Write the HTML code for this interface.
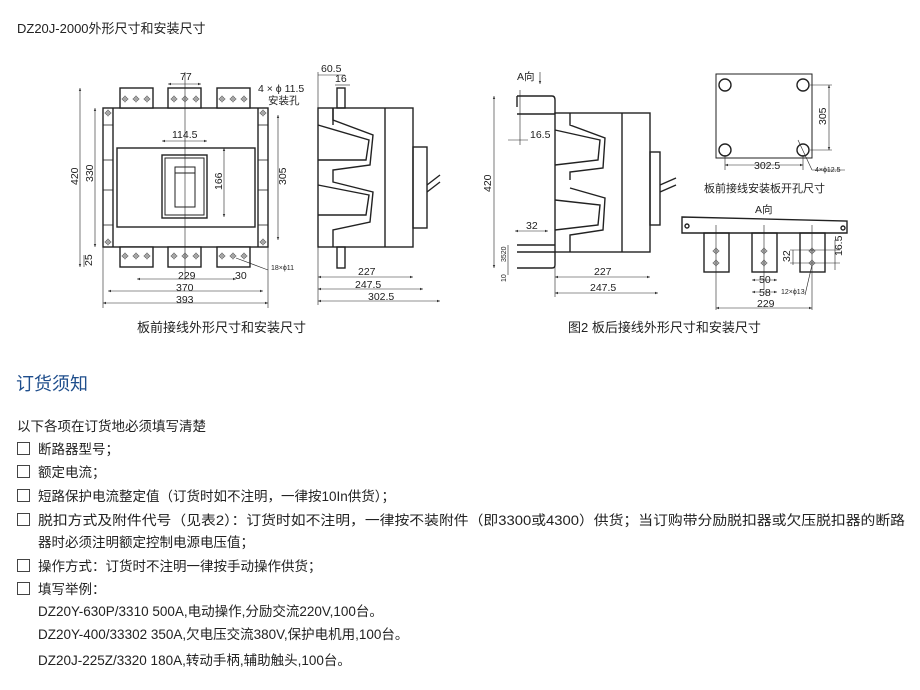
<!DOCTYPE html>
<html><head><meta charset="utf-8"><style>
body{margin:0;background:#fff}
svg{display:block}
text{font-family:"Liberation Sans","Noto Sans CJK SC",sans-serif;fill:#222}
.d{font-size:10.5px}
.s{font-size:7px}
</style></head><body>
<svg width="920" height="690" viewBox="0 0 920 690" xmlns="http://www.w3.org/2000/svg">
<defs>
<marker id="a" markerWidth="6" markerHeight="6" refX="5" refY="3" orient="auto-start-reverse"><path d="M0,1 L5,3 L0,5" fill="#333"/></marker>
<g id="h"><circle r="2.2" fill="none" stroke="#333" stroke-width="0.7"/><line x1="-3.5" x2="3.5" stroke="#333" stroke-width="0.5"/><line y1="-3.5" y2="3.5" stroke="#333" stroke-width="0.5"/></g>
<g id="t"><use href="#h" x="-11"/><use href="#h"/><use href="#h" x="11"/></g>
</defs>
<text x="17" y="33" style="font-size:13px">DZ20J-2000外形尺寸和安装尺寸</text>

<g stroke="#222" fill="none" stroke-width="1.4">
<!-- front view -->
<rect x="103" y="108" width="165" height="139" fill="#fff"/>
<line x1="113" y1="108" x2="113" y2="247"/><line x1="258" y1="108" x2="258" y2="247"/>
<g stroke-width="0.8">
<line x1="103" y1="125" x2="113" y2="125"/><line x1="103" y1="160" x2="113" y2="160"/><line x1="103" y1="190" x2="113" y2="190"/><line x1="103" y1="225" x2="113" y2="225"/>
<line x1="258" y1="125" x2="268" y2="125"/><line x1="258" y1="160" x2="268" y2="160"/><line x1="258" y1="190" x2="268" y2="190"/><line x1="258" y1="225" x2="268" y2="225"/>
</g>
<rect x="120" y="88" width="33" height="20" fill="#fff"/><rect x="168" y="88" width="33" height="20" fill="#fff"/><rect x="217" y="88" width="33" height="20" fill="#fff"/>
<rect x="120" y="247" width="33" height="20" fill="#fff"/><rect x="168" y="247" width="33" height="20" fill="#fff"/><rect x="217" y="247" width="33" height="20" fill="#fff"/>
<rect x="117" y="148" width="138" height="79"/>
<rect x="162" y="155" width="45" height="63"/><rect x="165" y="158" width="39" height="57" stroke-width="1"/>
<rect x="175" y="167" width="20" height="40" stroke-width="1"/><line x1="175" y1="173" x2="195" y2="173" stroke-width="1"/>
<line x1="185" y1="72" x2="185" y2="280" stroke-width="0.6"/>
<!-- dims front -->
<g stroke-width="0.6">
<line x1="80" y1="88" x2="80" y2="267" marker-start="url(#a)" marker-end="url(#a)"/>
<line x1="95" y1="108" x2="95" y2="247" marker-start="url(#a)" marker-end="url(#a)"/>
<line x1="278" y1="115" x2="278" y2="240" marker-start="url(#a)" marker-end="url(#a)"/>
<line x1="224" y1="148" x2="224" y2="217" marker-start="url(#a)" marker-end="url(#a)"/>
<line x1="168" y1="84" x2="201" y2="84" marker-start="url(#a)" marker-end="url(#a)"/>
<line x1="162" y1="141" x2="207" y2="141" marker-start="url(#a)" marker-end="url(#a)"/>
<line x1="137" y1="279" x2="236" y2="279" marker-start="url(#a)" marker-end="url(#a)"/>
<line x1="108" y1="291" x2="263" y2="291" marker-start="url(#a)" marker-end="url(#a)"/>
<line x1="103" y1="303" x2="268" y2="303" marker-start="url(#a)" marker-end="url(#a)"/>
<line x1="84" y1="255" x2="84" y2="267"/>
<line x1="103" y1="247" x2="103" y2="308"/><line x1="268" y1="247" x2="268" y2="308"/>
<line x1="236" y1="258" x2="268" y2="270"/>
</g>
<!-- side view -->
<rect x="318" y="108" width="95" height="139" fill="#fff"/>
<line x1="385" y1="108" x2="385" y2="247"/>
<rect x="413" y="147" width="14" height="81"/>
<line x1="427" y1="185" x2="440" y2="175"/><line x1="427" y1="192" x2="440" y2="182"/>
<rect x="337" y="88" width="8" height="20"/><rect x="337" y="247" width="8" height="21"/>
<path d="M318,125 L369,140 L366,160 L318,160 M333,108 L333,125 M318,185 L369,195 L366,215 L318,215"/>
<path d="M333,108 L333,120 L373,135 L370,165 L333,170 L333,182 L373,192 L370,222 L333,230 L333,247"/>
<g stroke-width="0.6">
<line x1="318" y1="277" x2="413" y2="277" marker-start="url(#a)" marker-end="url(#a)"/>
<line x1="318" y1="289" x2="423" y2="289" marker-start="url(#a)" marker-end="url(#a)"/>
<line x1="318" y1="301" x2="440" y2="301" marker-start="url(#a)" marker-end="url(#a)"/>
<line x1="318" y1="75" x2="345" y2="75"/><line x1="335" y1="85" x2="350" y2="85"/>
<line x1="318" y1="72" x2="318" y2="305"/>
</g>
<!-- rear view -->
<rect x="555" y="113" width="95" height="139" fill="#fff"/>
<line x1="622" y1="113" x2="622" y2="252"/>
<rect x="650" y="152" width="10" height="73"/>
<line x1="660" y1="185" x2="676" y2="178"/><line x1="660" y1="192" x2="676" y2="185"/>
<path d="M517,96 L552,96 Q555,96 555,100 L555,114 M517,114 L555,114 M517,107 L517,96"/>
<path d="M517,245 L555,245 M517,252 L555,252 L555,265 Q555,268 552,268 L517,268"/>
<path d="M555,130 L600,140 L598,160 L555,165 M570,113 L570,125 L605,138 L603,168 L570,172 L570,180 M555,200 L600,205 L598,225 L555,230 M570,188 L605,198 L603,230 L570,235 L570,252"/>
<g stroke-width="0.6">
<line x1="494" y1="96" x2="494" y2="268" marker-start="url(#a)" marker-end="url(#a)"/>
<line x1="508" y1="140" x2="528" y2="140"/><line x1="520" y1="90" x2="520" y2="145"/>
<line x1="515" y1="231" x2="548" y2="231" marker-start="url(#a)" marker-end="url(#a)"/>
<line x1="508" y1="245" x2="508" y2="275"/>
<line x1="555" y1="277" x2="650" y2="277" marker-start="url(#a)" marker-end="url(#a)"/>
<line x1="555" y1="293" x2="658" y2="293" marker-start="url(#a)" marker-end="url(#a)"/>
<line x1="555" y1="252" x2="555" y2="297"/>
<line x1="540" y1="72" x2="540" y2="84" marker-end="url(#a)"/>
</g>
<!-- mounting plate -->
<rect x="716" y="74" width="96" height="84" stroke-width="1"/>
<circle cx="725" cy="85" r="6"/><circle cx="803" cy="85" r="6"/><circle cx="725" cy="150" r="6"/><circle cx="803" cy="150" r="6"/>
<g stroke-width="0.6">
<line x1="829" y1="85" x2="829" y2="150" marker-start="url(#a)" marker-end="url(#a)"/>
<line x1="810" y1="85" x2="832" y2="85"/><line x1="810" y1="150" x2="832" y2="150"/>
<line x1="725" y1="165" x2="803" y2="165" marker-start="url(#a)" marker-end="url(#a)"/>
<line x1="725" y1="155" x2="725" y2="170"/><line x1="803" y1="155" x2="803" y2="170"/>
<line x1="798" y1="140" x2="812" y2="170"/><line x1="812" y1="170" x2="845" y2="170"/>
</g>
<!-- A view -->
<path d="M682,217 L847,221 L847,233 L682,233 Z"/>
<circle cx="687" cy="226" r="2"/><circle cx="843" cy="228" r="2"/>
<rect x="704" y="233" width="25" height="39"/><rect x="752" y="233" width="25" height="39"/><rect x="800" y="233" width="25" height="39"/>
<g stroke-width="0.6">
<line x1="716" y1="225" x2="716" y2="310"/><line x1="764" y1="225" x2="764" y2="290"/><line x1="812" y1="225" x2="812" y2="310"/>
<line x1="752" y1="280" x2="777" y2="280" marker-start="url(#a)" marker-end="url(#a)"/>
<line x1="752" y1="292" x2="777" y2="292" marker-start="url(#a)" marker-end="url(#a)"/>
<line x1="716" y1="308" x2="812" y2="308" marker-start="url(#a)" marker-end="url(#a)"/>
<line x1="793" y1="250" x2="793" y2="265"/><line x1="835" y1="240" x2="835" y2="270"/>
<line x1="790" y1="250" x2="840" y2="250"/><line x1="790" y1="263" x2="840" y2="263"/>
<line x1="812" y1="265" x2="805" y2="295"/>
</g>
</g>
<use href="#t" x="136" y="99"/><use href="#t" x="185" y="99"/><use href="#t" x="233" y="99"/>
<use href="#t" x="136" y="256"/><use href="#t" x="185" y="256"/><use href="#t" x="233" y="256"/>
<use href="#h" x="108" y="113"/><use href="#h" x="263" y="113"/><use href="#h" x="108" y="242"/><use href="#h" x="263" y="242"/>
<use href="#h" x="716" y="251"/><use href="#h" x="716" y="263"/><use href="#h" x="764" y="251"/><use href="#h" x="764" y="263"/><use href="#h" x="812" y="251"/><use href="#h" x="812" y="263"/>

<!-- dimension text -->
<text class="d" x="180" y="80">77</text>
<text class="d" x="172" y="138">114.5</text>
<text class="d" x="258" y="92">4 × ϕ 11.5</text>
<text class="d" x="268" y="104">安装孔</text>
<text class="d" x="178" y="279">229</text>
<text class="d" x="176" y="291">370</text>
<text class="d" x="176" y="303">393</text>
<text class="d" x="235" y="279">30</text>
<text class="s" x="271" y="270">18×ϕ11</text>
<text class="d" transform="translate(78,185) rotate(-90)">420</text>
<text class="d" transform="translate(93,182) rotate(-90)">330</text>
<text class="d" transform="translate(92,266) rotate(-90)">25</text>
<text class="d" transform="translate(222,190) rotate(-90)">166</text>
<text class="d" transform="translate(286,185) rotate(-90)">305</text>
<text class="d" x="321" y="72">60.5</text>
<text class="d" x="335" y="82">16</text>
<text class="d" x="358" y="275">227</text>
<text class="d" x="355" y="288">247.5</text>
<text class="d" x="368" y="300">302.5</text>
<text class="d" x="517" y="80">A向</text>
<text class="d" x="530" y="138">16.5</text>
<text class="d" x="526" y="229">32</text>
<text class="d" transform="translate(491,192) rotate(-90)">420</text>
<text class="s" transform="translate(506,262) rotate(-90)">3520</text>
<text class="s" transform="translate(506,282) rotate(-90)">10</text>
<text class="d" x="594" y="275">227</text>
<text class="d" x="590" y="291">247.5</text>
<text class="d" x="754" y="169">302.5</text>
<text class="s" x="815" y="172">4×ϕ12.5</text>
<text class="d" transform="translate(826,125) rotate(-90)">305</text>
<text style="font-size:11px" x="704" y="192">板前接线安装板开孔尺寸</text>
<text class="d" x="755" y="213">A向</text>
<text class="d" transform="translate(790,262) rotate(-90)">32</text>
<text class="d" transform="translate(842,256) rotate(-90)">16.5</text>
<text class="d" x="759" y="283">50</text>
<text class="d" x="759" y="296">58</text>
<text class="s" x="781" y="294">12×ϕ13</text>
<text class="d" x="757" y="307">229</text>
<text style="font-size:13px" x="137" y="332">板前接线外形尺寸和安装尺寸</text>
<text style="font-size:13px" x="568" y="332">图2 板后接线外形尺寸和安装尺寸</text>

<text x="16" y="390" style="font-size:18px;fill:#1f4e8c">订货须知</text>
<g style="font-size:13.5px">
<text x="17" y="431">以下各项在订货地必须填写清楚</text>
<text x="38" y="454">断路器型号；</text>
<text x="38" y="477">额定电流；</text>
<text x="38" y="501">短路保护电流整定值（订货时如不注明，一律按10In供货）；</text>
<text x="38" y="525" textLength="867" lengthAdjust="spacingAndGlyphs">脱扣方式及附件代号（见表2）：订货时如不注明，一律按不装附件（即3300或4300）供货；当订购带分励脱扣器或欠压脱扣器的断路</text>
<text x="38" y="547">器时必须注明额定控制电源电压值；</text>
<text x="38" y="571">操作方式：订货时不注明一律按手动操作供货；</text>
<text x="38" y="594">填写举例：</text>
<text x="38" y="616">DZ20Y-630P/3310 500A,电动操作,分励交流220V,100台。</text>
<text x="38" y="639">DZ20Y-400/33302 350A,欠电压交流380V,保护电机用,100台。</text>
<text x="38" y="665">DZ20J-225Z/3320 180A,转动手柄,辅助触头,100台。</text>
</g>
<g fill="none" stroke="#444" stroke-width="1">
<rect x="17.5" y="442.5" width="12" height="12"/><rect x="17.5" y="465.5" width="12" height="12"/>
<rect x="17.5" y="489.5" width="12" height="12"/><rect x="17.5" y="513.5" width="12" height="12"/>
<rect x="17.5" y="559.5" width="12" height="12"/><rect x="17.5" y="582.5" width="12" height="12"/>
</g>
</svg>
</body></html>
